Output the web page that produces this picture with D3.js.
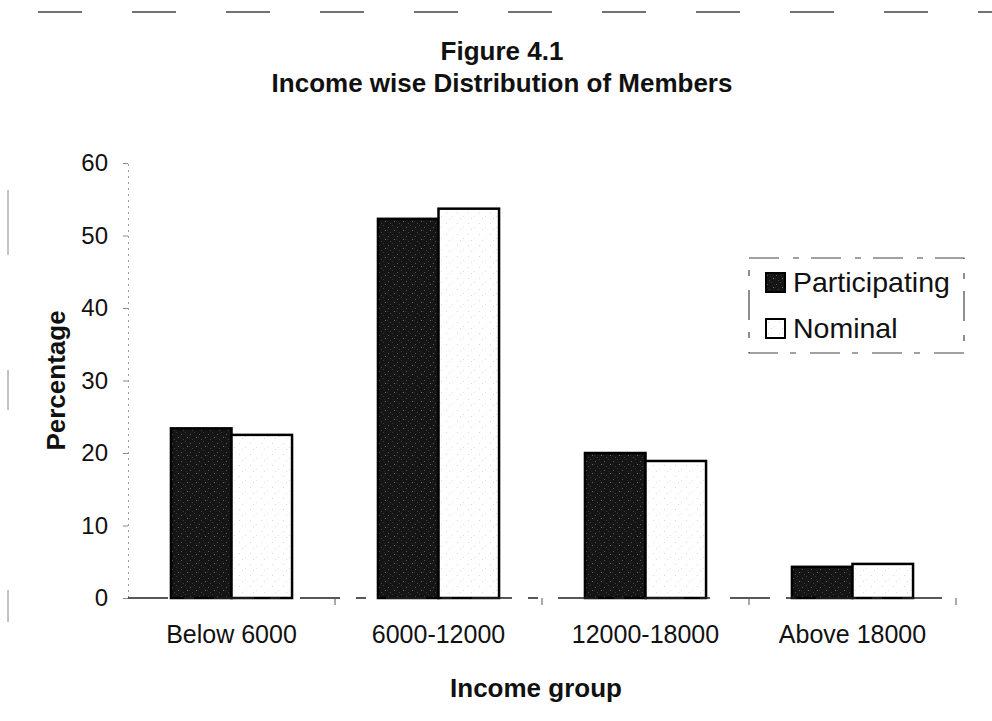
<!DOCTYPE html>
<html>
<head>
<meta charset="utf-8">
<script src="https://cdn.jsdelivr.net/npm/d3@7/dist/d3.min.js"></script>
<style>
  html, body { margin: 0; padding: 0; background: #fff; }
  svg { display: block; }
  text { font-family: "Liberation Sans", Arial, sans-serif; fill: #111; }
</style>
</head>
<body>
<svg id="chart" width="992" height="721"></svg>
<script>
// Income groups and the share of members (%) in each
const categories = ["Below 6000", "6000-12000", "12000-18000", "Above 18000"];
const seriesNames = ["Participating", "Nominal"];
const participating = [23.4, 52.3, 20.0, 4.3];
const nominal = [22.5, 53.7, 18.9, 4.7];
const yTicks = [0, 10, 20, 30, 40, 50, 60];

const titleLines = ["Figure 4.1", "Income wise Distribution of Members"];
const xTitle = "Income group";
const yTitle = "Percentage";

const svg = d3.select("#chart");
const plot = { left: 128, right: 956, top: 163, bottom: 598 };

// Fill textures for the two series
const defs = svg.append("defs");
const dark = defs.append("pattern").attr("id", "fillDark")
  .attr("patternUnits", "userSpaceOnUse").attr("width", 9).attr("height", 9);
dark.append("rect").attr("width", 9).attr("height", 9).attr("fill", "#151515");
[[1,2,"#5a5a5a"],[5,0,"#3a3a3a"],[7,5,"#6a6a6a"],[3,7,"#444"],[0,5,"#2e2e2e"],[6,3,"#252525"]]
  .forEach(([x, y, c]) => dark.append("rect").attr("x", x).attr("y", y).attr("width", 1).attr("height", 1).attr("fill", c));

const light = defs.append("pattern").attr("id", "fillLight")
  .attr("patternUnits", "userSpaceOnUse").attr("width", 11).attr("height", 11);
light.append("rect").attr("width", 11).attr("height", 11).attr("fill", "#fff");
[[2,3,"#d6d6d6"],[8,7,"#e2e2e2"],[5,9,"#dadada"]]
  .forEach(([x, y, c]) => light.append("rect").attr("x", x).attr("y", y).attr("width", 1).attr("height", 1).attr("fill", c));

const fills = ["url(#fillDark)", "url(#fillLight)"];

// Broken rule across the top of the page and along the left edge
svg.append("line")
  .attr("x1", 38).attr("x2", 992).attr("y1", 12).attr("y2", 12)
  .attr("stroke", "#444").attr("stroke-width", 1.5)
  .attr("stroke-dasharray", "44,50");
svg.append("line")
  .attr("x1", 8).attr("x2", 8).attr("y1", 190).attr("y2", 622)
  .attr("stroke", "#888").attr("stroke-width", 1)
  .attr("stroke-dasharray", "65,115,40,180,32");

// Title
svg.selectAll("text.title").data(titleLines).enter().append("text")
  .attr("class", "title")
  .attr("x", 502)
  .attr("y", (d, i) => 60 + i * 32)
  .attr("text-anchor", "middle")
  .attr("font-weight", "bold")
  .attr("font-size", 26)
  .text(d => d);

// Scales
const x0 = d3.scaleBand().domain(categories).range([plot.left, plot.right]).paddingInner(0.415).paddingOuter(0.2075);
const x1 = d3.scaleBand().domain(seriesNames).range([0, x0.bandwidth()]);
const y = d3.scaleLinear().domain([0, 60]).range([plot.bottom, plot.top]);

// Y axis (faint, broken line with short ticks)
const yAxis = svg.append("g").attr("transform", `translate(${plot.left},0)`)
  .call(d3.axisLeft(y).tickValues(yTicks).tickSize(5).tickPadding(15).tickFormat(d3.format("d")));
yAxis.select(".domain").attr("stroke", "#999").attr("stroke-width", 1).attr("stroke-dasharray", "2,4");
yAxis.selectAll(".tick line").attr("stroke", "#888");
yAxis.selectAll(".tick text")
  .attr("font-size", 24)
  .attr("fill", "#111")
  .style("font-family", "'Liberation Sans', Arial, sans-serif");

// Bars
const rows = categories.map((c, i) => ({ cat: c, vals: [participating[i], nominal[i]] }));
const groups = svg.append("g").selectAll("g").data(rows).enter().append("g")
  .attr("transform", d => `translate(${x0(d.cat)},0)`);
groups.selectAll("rect")
  .data(d => d.vals.map((v, k) => ({ key: seriesNames[k], v, k })))
  .enter().append("rect")
  .attr("x", d => x1(d.key))
  .attr("y", d => y(d.v))
  .attr("width", x1.bandwidth())
  .attr("height", d => y(0) - y(d.v))
  .attr("fill", d => fills[d.k])
  .attr("stroke", "#000")
  .attr("stroke-width", 2.5);

// X axis: baseline, ticks between categories, category labels
const xAxisG = svg.append("g").attr("transform", `translate(0,${plot.bottom})`);
xAxisG.append("line")
  .attr("x1", plot.left).attr("x2", plot.right + 2)
  .attr("stroke", "#222").attr("stroke-width", 1.5)
  .attr("stroke-dasharray", "40,16,10,20");
const step = x0.step();
const boundaries = d3.range(categories.length + 1).map(i => plot.left + i * step);
xAxisG.selectAll("line.sep").data(boundaries.slice(1)).enter().append("line")
  .attr("class", "sep")
  .attr("x1", d => d).attr("x2", d => d).attr("y1", 0).attr("y2", 7)
  .attr("stroke", "#555").attr("stroke-width", 1);
const xAxis = xAxisG.append("g")
  .call(d3.axisBottom(x0).tickSize(0).tickPadding(27));
xAxis.select(".domain").remove();
xAxis.selectAll(".tick text")
  .attr("font-size", 25)
  .attr("fill", "#111")
  .style("font-family", "'Liberation Sans', Arial, sans-serif");

// Axis titles
svg.append("text")
  .attr("x", 536)
  .attr("y", 697)
  .attr("text-anchor", "middle")
  .attr("font-weight", "bold")
  .attr("font-size", 26)
  .text(xTitle);

svg.append("text")
  .attr("transform", `translate(65,${(plot.top + plot.bottom) / 2}) rotate(-90)`)
  .attr("text-anchor", "middle")
  .attr("font-weight", "bold")
  .attr("font-size", 26)
  .text(yTitle);

// Legend
const legend = svg.append("g").attr("transform", "translate(749,258)");
legend.append("rect")
  .attr("width", 215).attr("height", 95)
  .attr("fill", "none").attr("stroke", "#444").attr("stroke-width", 1.2)
  .attr("stroke-dasharray", "30,14,6,12");
const items = legend.selectAll("g.item").data(seriesNames).enter().append("g")
  .attr("class", "item")
  .attr("transform", (d, i) => `translate(17,${15 + i * 46})`);
items.append("rect")
  .attr("width", 19).attr("height", 19)
  .attr("fill", (d, i) => fills[i])
  .attr("stroke", "#000").attr("stroke-width", 2);
items.append("text")
  .attr("x", 27).attr("y", 19)
  .attr("font-size", 28.5)
  .text(d => d);
</script>
</body>
</html>
